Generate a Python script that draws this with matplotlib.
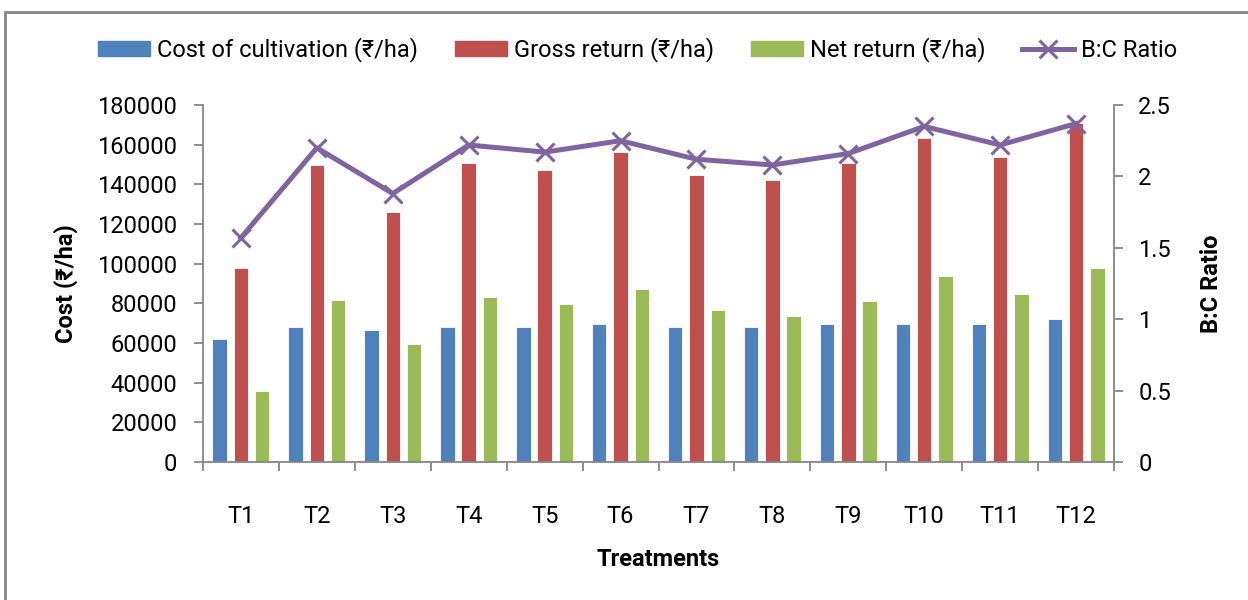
import matplotlib
matplotlib.use("Agg")
import matplotlib.pyplot as plt
from matplotlib.patches import Rectangle
from matplotlib.lines import Line2D
import numpy as np

plt.rcParams['font.family'] = ['Roboto', 'Noto Sans', 'DejaVu Sans']

treatments = ["T1", "T2", "T3", "T4", "T5", "T6", "T7", "T8", "T9", "T10", "T11", "T12"]
cost = [62000, 68000, 66500, 68000, 68000, 69500, 68000, 68000, 69500, 69500, 69500, 72000]
gross = [98000, 150000, 126000, 151000, 147000, 156500, 144500, 142000, 151000, 163500, 154000, 171000]
net = [36000, 81500, 59500, 83000, 79500, 87000, 76500, 73500, 81000, 94000, 84500, 98000]
bc = [1.57, 2.20, 1.88, 2.22, 2.17, 2.25, 2.12, 2.08, 2.16, 2.35, 2.22, 2.37]

c_blue = "#4F81BD"
c_red = "#C0504D"
c_green = "#9BBB59"
c_purple = "#8064A2"
axis_col = "#868686"

fig = plt.figure(figsize=(12.48, 6.0), dpi=100)
ax = fig.add_axes([203/1248, 1 - 462/600, (1114 - 203)/1248, (462 - 105)/600])
x = np.arange(len(treatments))
w = 0.19
off = 0.28
ax.bar(x - off, cost, w, color=c_blue, edgecolor="white", linewidth=0.6, zorder=2)
ax.bar(x, gross, w, color=c_red, edgecolor="white", linewidth=0.6, zorder=2)
ax.bar(x + off, net, w, color=c_green, edgecolor="white", linewidth=0.6, zorder=2)
ax.set_xlim(-0.5, len(treatments) - 0.5)
ax.set_ylim(0, 180000)
ax.set_yticks(np.arange(0, 180001, 20000))
ax.set_yticklabels([str(v) for v in range(0, 180001, 20000)])

ax2 = ax.twinx()
ax2.plot(x, bc, color=c_purple, linewidth=3.6, marker="x", markersize=13, markeredgewidth=2.2, zorder=5)
ax2.set_ylim(0, 2.5)
ax2.set_yticks([0, 0.5, 1, 1.5, 2, 2.5])
ax2.set_yticklabels(["0", "0.5", "1", "1.5", "2", "2.5"])

for a in (ax, ax2):
    a.spines["top"].set_visible(False)
    for s in ("left", "right", "bottom"):
        a.spines[s].set_color(axis_col)
        a.spines[s].set_linewidth(1.3)
ax.spines["right"].set_visible(False)
ax2.spines["left"].set_visible(False)
ax2.spines["bottom"].set_visible(False)

ax.set_xticks(x)
ax.set_xticklabels(treatments)
ax.set_xticks(np.arange(-0.5, len(treatments), 1.0), minor=True)
ax.tick_params(axis="x", which="major", length=0, pad=31, labelsize=17)
ax.tick_params(axis="x", which="minor", length=6.5, width=1.3, color=axis_col, direction="out")
ax.tick_params(axis="y", length=6.5, width=1.3, color=axis_col, direction="out", labelsize=17, pad=12)
ax2.tick_params(axis="y", length=6.5, width=1.3, color=axis_col, direction="out", labelsize=17, pad=11)

ax.set_ylabel("Cost (₹/ha)", fontsize=17, fontweight="bold", labelpad=14)
ax2.set_ylabel("B:C Ratio", fontsize=17, fontweight="bold", labelpad=21)
ax.set_xlabel("Treatments", fontsize=17, fontweight="bold", labelpad=14)

handles = [
    Rectangle((0, 0), 1, 1, color=c_blue),
    Rectangle((0, 0), 1, 1, color=c_red),
    Rectangle((0, 0), 1, 1, color=c_green),
    Line2D([0], [0], color=c_purple, linewidth=3.6, marker="x", markersize=13, markeredgewidth=2.2),
]
labels = ["Cost of cultivation (₹/ha)", "Gross return (₹/ha)", "Net return (₹/ha)", "B:C Ratio"]
fig.legend(handles, labels, loc="center", bbox_to_anchor=(0.511, 0.917), ncol=4, frameon=False,
           fontsize=17, handlelength=2.2, handleheight=0.65, columnspacing=1.55, handletextpad=0.3)

fig.patches.append(Rectangle((0.004, -0.05), 1.05, 1.03, transform=fig.transFigure,
                             fill=False, edgecolor=axis_col, linewidth=2.0))

fig.savefig("out.png", dpi=100)
